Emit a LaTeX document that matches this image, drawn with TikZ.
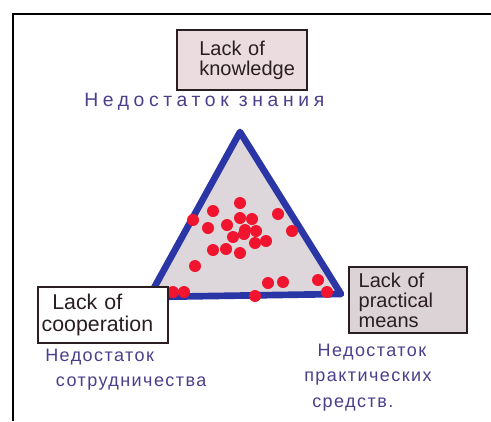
\documentclass[tikz,border=0pt]{standalone}
\usepackage{fontspec}
\setmainfont{Liberation Sans}
\newfontfamily\ruhandwide[LetterSpace=24]{Liberation Sans}
\newfontfamily\ruhand[LetterSpace=8]{Liberation Sans}
\definecolor{inkblue}{HTML}{2B36A6}
\definecolor{trifill}{HTML}{DDD7DB}
\definecolor{dotred}{HTML}{F0142E}
\definecolor{pinkbox}{HTML}{EBDDDF}
\definecolor{greybox}{HTML}{DCD3D7}
\definecolor{ruink}{HTML}{4A3F8C}
\definecolor{boxink}{HTML}{2A1E22}
\tikzset{
  lab/.style={draw=boxink, line width=1.5pt, inner sep=0pt, align=left, font=\fontsize{15}{15}\selectfont, text=boxink},
  rutext/.style={text=ruink, font=\ruhand\fontsize{13.5}{19}\selectfont, align=left, inner sep=0pt},
  dot/.style={circle, fill=dotred, minimum size=9pt, inner sep=0pt}
}
\begin{document}
\begin{tikzpicture}[x=0.75pt, y=-0.75pt]
\useasboundingbox (0,0) rectangle (491,421);
\fill[white] (0,0) rectangle (491,421);
% frame
\draw[line width=2pt] (13,421) -- (13,14) -- (491,14);
% triangle
\coordinate (T) at (240,132);
\coordinate (BL) at (149,297);
\coordinate (BR) at (341,294);
\filldraw[fill=trifill, draw=inkblue, line width=5pt, line join=round] (T) -- (BR) -- (BL) -- cycle;
% dots
\foreach \i/\p in {1/{(240,203)},2/{(213,211)},3/{(193,220)},4/{(278,214)},5/{(240,218)},6/{(252,219)},7/{(208,228)},8/{(227,225)},9/{(245,230)},10/{(256,231)},11/{(292,231)},12/{(233,237)},13/{(244,234)},14/{(255,243)},15/{(266,241)},16/{(213,250)},17/{(226,249)},18/{(240,253)},19/{(195,266)},20/{(268,283)},21/{(283,282)},22/{(318,280)},23/{(327,292)},24/{(173,292)},25/{(184,292)},26/{(255,296)}}
  \node[dot] (d\i) at \p {};
% label boxes
\node[lab, fill=pinkbox, minimum width=97pt, minimum height=45pt, text width=84pt] (know) at (242,60) {\hspace*{10pt}Lack of\\\hspace*{10pt}knowledge};
\node[lab, fill=greybox, minimum width=88pt, minimum height=49pt, text width=82pt] (means) at (408,300) {\hspace*{4pt}Lack of\\\hspace*{4pt}practical\\\hspace*{4pt}means};
\node[lab, fill=white, minimum width=97pt, minimum height=42pt, text width=92pt, font=\fontsize{16}{16}\selectfont] (coop) at (103,315) {\hspace*{8pt}Lack of\\cooperation};
% russian labels
\node[rutext, anchor=west, font=\ruhandwide\fontsize{14.5}{18}\selectfont] (rk) at (84,102) {Недостаток знания};
\node[rutext, anchor=north west] (rc) at (45,349) {Недостаток\\\hspace*{8pt}сотрудничества};
\node[rutext, anchor=north west] (rm) at (304,344) {\hspace*{10pt}Недостаток\\практических\\\hspace*{6pt}средств.};
\end{tikzpicture}
\end{document}
